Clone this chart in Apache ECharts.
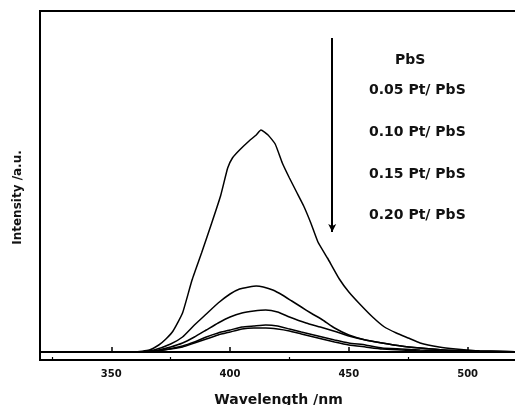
<!DOCTYPE html>
<html>
<head>
<meta charset="utf-8">
<script src="https://cdn.jsdelivr.net/npm/echarts@6/dist/echarts.min.js"></script>
<style>
  html, body { margin: 0; padding: 0; background: #fff; }
  #chart { width: 515px; height: 405px; }
</style>
</head>
<body>
<div id="chart"></div>
<script>
// PL spectra, intensity in arbitrary units
const seriesNames = ['PbS', '0.05 Pt/ PbS', '0.10 Pt/ PbS', '0.15 Pt/ PbS', '0.20 Pt/ PbS'];

const wlPbS = [320, 360, 366, 370, 373, 376, 380, 384, 388, 392, 396, 399, 401, 404, 408, 411, 413, 416, 419, 422, 425, 428, 431, 434, 437, 441, 446, 450, 455, 460, 465, 470, 475, 480, 488, 495, 505, 525];
const intPbS = [0, 0, 2, 7, 13, 21, 39, 72, 99, 127, 156, 184, 194, 202, 211, 217, 222, 217, 208, 189, 174, 160, 146, 129, 110, 94, 73, 60, 47, 35, 25, 19, 14, 9, 5, 3, 1, 0];

const wl005 = [320, 362, 368, 375, 380, 385, 390, 395, 400, 404, 408, 411, 414, 418, 422, 426, 430, 434, 439, 444, 450, 457, 464, 472, 480, 490, 505, 525];
const int005 = [0, 0, 2, 8, 15, 27, 38, 49, 58, 63, 65, 66, 65, 62, 57, 51, 45, 39, 32, 24, 17, 12, 9, 6, 4, 2, 1, 0];

const wl010 = [320, 365, 370, 375, 380, 385, 390, 395, 400, 405, 410, 415, 420, 425, 432, 438, 445, 450, 457, 464, 472, 480, 490, 505, 525];
const int010 = [0, 0, 2, 5, 9, 15, 22, 29, 35, 39, 41, 42, 40, 35, 29, 25, 20, 16, 12, 9, 6, 4, 2, 1, 0];

const wl015 = [320, 365, 372, 380, 385, 390, 395, 400, 405, 410, 415, 420, 425, 430, 437, 444, 450, 457, 464, 472, 480, 490, 505, 525];
const int015 = [0, 0, 2, 6, 10, 15, 19, 22, 25, 26, 27, 26, 23, 20, 16, 12, 9, 7, 4, 3, 2, 1, 0, 0];
const int020 = [0, 0, 2, 5, 9, 13, 17, 20, 23, 24, 24, 23, 21, 18, 14, 10, 7, 5, 3, 2, 1, 0.5, 0, 0];

const majorTicks = [350, 400, 450, 500];
const minorTicks = [325, 375, 425, 475];

// arrow: wavelength, start and end intensity
const arrowX = 443;
const arrowFrom = 314;
const arrowTo = 120;

const pairs = (xs, ys) => xs.map((x, i) => [x, ys[i]]);
const seriesData = [
  pairs(wlPbS, intPbS),
  pairs(wl005, int005),
  pairs(wl010, int010),
  pairs(wl015, int015),
  pairs(wl015, int020),
];

const font = '"DejaVu Sans", Verdana, sans-serif';
const chart = echarts.init(document.getElementById('chart'), null, { renderer: 'canvas' });

const labelPos = [[395, 53], [369, 83], [369, 125], [369, 167], [369, 208]];

chart.setOption({
  animation: false,
  grid: {
    left: 40, top: 11, width: 487, height: 349,
    outerBoundsMode: 'none',
    show: true, borderColor: '#000', borderWidth: 2, backgroundColor: 'transparent'
  },
  xAxis: [{
    type: 'value', min: 320, max: 525,
    name: 'Wavelength /nm', nameLocation: 'middle', nameGap: 33,
    nameTextStyle: { fontFamily: font, fontSize: 14, fontWeight: 'bold', color: '#111', padding: [0, 10, 0, 0] },
    axisLine: { show: true, lineStyle: { color: '#000', width: 2 } },
    axisTick: { show: true, inside: true, length: 5, lineStyle: { color: '#000', width: 1.5 }, customValues: majorTicks },
    axisLabel: { fontFamily: font, fontSize: 10, fontWeight: 'bold', color: '#111', margin: 9, customValues: majorTicks },
    splitLine: { show: false }
  }, {
    type: 'value', min: 320, max: 525, position: 'bottom',
    axisLine: { show: false },
    axisTick: { show: true, inside: true, length: 3, lineStyle: { color: '#000', width: 1.2 }, customValues: minorTicks },
    axisLabel: { show: false },
    splitLine: { show: false }
  }],
  yAxis: {
    type: 'value', min: -8, max: 341,
    name: 'Intensity /a.u.', nameLocation: 'middle', nameGap: 16,
    nameTextStyle: { fontFamily: font, fontSize: 12, fontWeight: 'bold', color: '#111', padding: [0, 24, 0, 0] },
    axisLine: { show: true, lineStyle: { color: '#000', width: 2 } },
    axisTick: { show: false },
    axisLabel: { show: false },
    splitLine: { show: false }
  },
  graphic: seriesNames.map((n, i) => ({
    type: 'text', left: labelPos[i][0], top: labelPos[i][1],
    style: { text: n, font: 'bold 14px ' + font, fill: '#111' }
  })),
  series: seriesData.map((d, i) => ({
    name: seriesNames[i],
    type: 'line',
    data: d,
    smooth: 0.15,
    symbol: 'none',
    lineStyle: { color: '#000', width: 1.5 },
    markLine: i === 0 ? {
      silent: true,
      symbol: ['none', 'arrow'],
      symbolSize: [6, 8],
      label: { show: false },
      lineStyle: { color: '#000', width: 2, type: 'solid' },
      data: [[{ coord: [arrowX, arrowFrom] }, { coord: [arrowX, arrowTo] }]]
    } : undefined
  }))
});
</script>
</body>
</html>
